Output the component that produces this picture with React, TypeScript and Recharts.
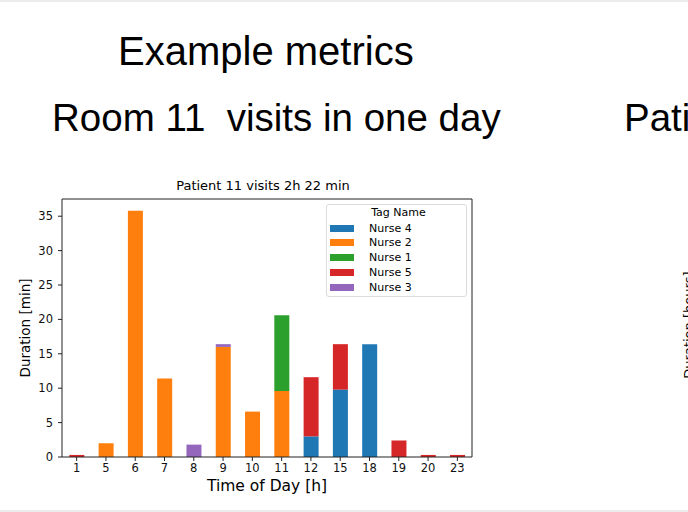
import React from "react";
import {
  BarChart,
  Bar,
  XAxis,
  YAxis,
} from "recharts";

const hours = ["1", "5", "6", "7", "8", "9", "10", "11", "12", "15", "18", "19", "20", "23"];

// one list per nurse, in stacking order (bottom first)
const nurse4 = [0, 0, 0, 0, 0, 0, 0, 0, 3.0, 9.8, 16.4, 0, 0, 0];
const nurse2 = [0, 2.0, 35.8, 11.4, 0, 16.0, 6.6, 9.6, 0, 0, 0, 0, 0, 0];
const nurse1 = [0, 0, 0, 0, 0, 0, 0, 11.0, 0, 0, 0, 0, 0, 0];
const nurse5 = [0.3, 0, 0, 0, 0, 0, 0, 0, 8.6, 6.6, 0, 2.4, 0.3, 0.3];
const nurse3 = [0, 0, 0, 0, 1.8, 0.4, 0, 0, 0, 0, 0, 0, 0, 0];

const yTicks = [0, 5, 10, 15, 20, 25, 30, 35];

const series = [
  { key: "Nurse 4", values: nurse4, color: "#1f77b4" },
  { key: "Nurse 2", values: nurse2, color: "#ff7f0e" },
  { key: "Nurse 1", values: nurse1, color: "#2ca02c" },
  { key: "Nurse 5", values: nurse5, color: "#d62728" },
  { key: "Nurse 3", values: nurse3, color: "#9467bd" },
];

const chartData = hours.map((h, i) => {
  const row: Record<string, string | number> = { hour: h };
  series.forEach((s) => {
    row[s.key] = s.values[i];
  });
  return row;
});

const mplFont = "'DejaVu Sans', sans-serif";
const slideFont = "'Liberation Sans', Arial, sans-serif";

export default function App() {
  return (
    <div
      style={{
        position: "absolute",
        left: 0,
        top: 0,
        width: 688,
        height: 512,
        overflow: "hidden",
        background: "#fff",
      }}
    >
      <div style={{ position: "absolute", left: 0, top: 0, width: 688, height: 2, background: "#ececec" }} />
      <div style={{ position: "absolute", left: 0, top: 510, width: 688, height: 2, background: "#ececec" }} />

      <div
        style={{
          position: "absolute",
          left: 118,
          top: 28,
          fontFamily: slideFont,
          fontSize: 40,
          lineHeight: "46px",
          color: "#000",
          whiteSpace: "pre",
        }}
      >
        Example metrics
      </div>
      <div
        style={{
          position: "absolute",
          left: 52,
          top: 95,
          fontFamily: slideFont,
          fontSize: 38.5,
          lineHeight: "46px",
          color: "#000",
          whiteSpace: "pre",
        }}
      >
        Room 11  visits in one day
      </div>
      {/* next slide panel, cut by the right edge */}
      <div
        style={{
          position: "absolute",
          left: 624,
          top: 95,
          fontFamily: slideFont,
          fontSize: 38.5,
          lineHeight: "46px",
          color: "#000",
          whiteSpace: "pre",
        }}
      >
        Patient 11
      </div>
      <div
        style={{
          position: "absolute",
          left: 631,
          top: 317,
          width: 116,
          textAlign: "center",
          transform: "rotate(-90deg)",
          fontFamily: mplFont,
          fontSize: 13,
          lineHeight: "16px",
          whiteSpace: "pre",
        }}
      >
        Duration [hours]
      </div>

      <div style={{ position: "absolute", left: 0, top: 170 }}>
        <div
          style={{
            position: "absolute",
            left: 0,
            top: 8,
            width: 526,
            textAlign: "center",
            fontFamily: mplFont,
            fontSize: 13,
            color: "#000",
          }}
        >
          Patient 11 visits 2h 22 min
        </div>
        <BarChart
          width={480}
          height={330}
          data={chartData}
          margin={{ top: 28, right: 7, left: 0, bottom: 0 }}
          barCategoryGap="25%"
          style={{ fontFamily: mplFont }}
        >
          <XAxis
            dataKey="hour"
            interval={0}
            tickSize={4}
            tickMargin={3}
            stroke="#222"
            tick={{ fontSize: 11.5, fill: "#111" }}
            label={{
              value: "Time of Day [h]",
              position: "insideBottom",
              offset: 9,
              style: { fontSize: 15.5, fill: "#000" },
            }}
            height={43}
          />
          <XAxis
            xAxisId="top"
            dataKey="hour"
            orientation="top"
            tick={false}
            tickLine={false}
            stroke="#222"
            height={1}
          />
          <YAxis
            domain={[0, 37.5]}
            ticks={yTicks}
            allowDataOverflow
            tickSize={4}
            tickMargin={5}
            stroke="#222"
            width={62}
            tick={{ fontSize: 11.5, fill: "#111" }}
            label={{
              value: "Duration [min]",
              angle: -90,
              position: "insideLeft",
              offset: 25,
              style: { fontSize: 13.5, fill: "#000", textAnchor: "middle" },
            }}
          />
          <YAxis
            yAxisId="right"
            orientation="right"
            tick={false}
            tickLine={false}
            stroke="#222"
            width={1}
          />
          {series.map((s) => (
            <Bar
              key={s.key}
              dataKey={s.key}
              stackId="a"
              fill={s.color}
              isAnimationActive={false}
            />
          ))}
        </BarChart>

        <div
          style={{
            position: "absolute",
            left: 326,
            top: 34,
            width: 139,
            height: 91,
            border: "1px solid #dcdcdc",
            borderRadius: 3,
            background: "rgba(255,255,255,0.85)",
            fontFamily: mplFont,
            fontSize: 11,
            color: "#000",
          }}
        >
          <div style={{ position: "absolute", left: 0, top: 1, width: 139, textAlign: "center", paddingLeft: 2 }}>
            Tag Name
          </div>
          {series.map((s, i) => (
            <div key={s.key} style={{ position: "absolute", left: 3, top: 16 + i * 14.8, height: 14, display: "flex", alignItems: "center" }}>
              <div style={{ width: 24, height: 7, background: s.color }} />
              <div style={{ marginLeft: 15 }}>{s.key}</div>
            </div>
          ))}
        </div>
      </div>
    </div>
  );
}
